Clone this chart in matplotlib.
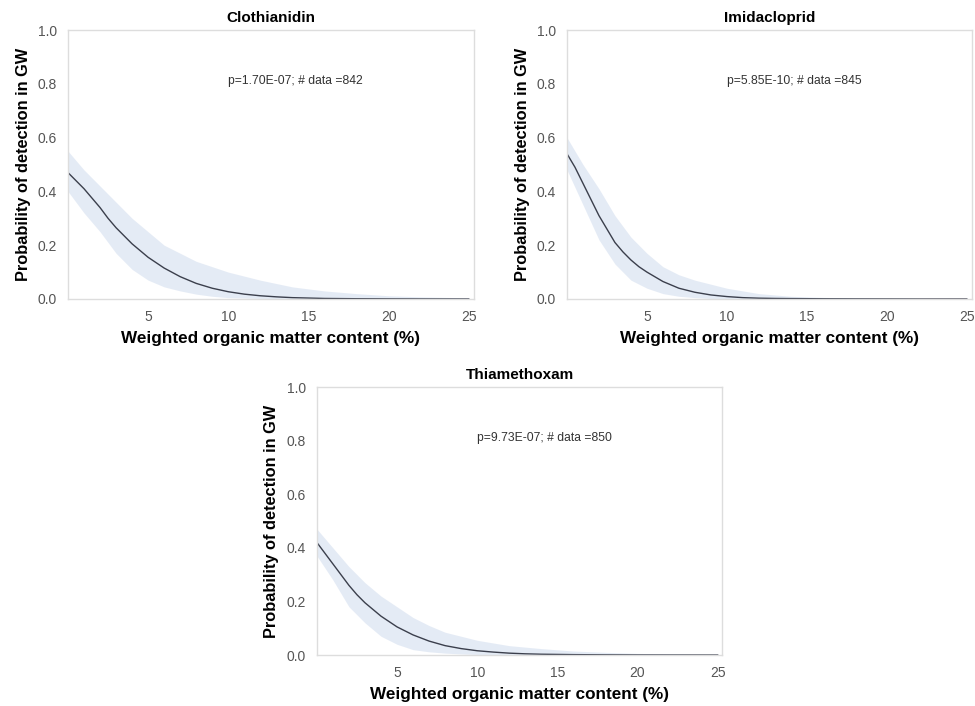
import numpy as np
import matplotlib.pyplot as plt

plt.rcParams['font.family'] = ['Liberation Sans', 'DejaVu Sans']

# organic matter (%) where the fitted curves were read
om = [0, 0.5, 1, 1.5, 2, 2.5, 3, 3.5, 4, 4.5, 5, 6, 7, 8, 9, 10, 11, 12, 13, 14, 16, 18, 20, 22, 25]
# organic matter (%) where the confidence bands were read
om_band = [0, 1, 2, 3, 4, 5, 6, 7, 8, 9, 10, 12, 14, 16, 18, 20, 22, 25]

# Clothianidin
clo_fit = [0.47, 0.44, 0.41, 0.375, 0.34, 0.30, 0.265, 0.235, 0.205, 0.18, 0.155, 0.115, 0.083, 0.058, 0.040,
           0.027, 0.018, 0.012, 0.008, 0.005, 0.002, 0.001, 0.0005, 0.0002, 0.0]
clo_lo = [0.40, 0.32, 0.25, 0.17, 0.11, 0.07, 0.045, 0.03, 0.018, 0.01, 0.005, 0.002, 0.001, 0.0, 0.0, 0.0, 0.0, 0.0]
clo_hi = [0.55, 0.48, 0.42, 0.36, 0.30, 0.25, 0.20, 0.17, 0.14, 0.12, 0.10, 0.07, 0.045, 0.03, 0.02, 0.012, 0.008, 0.004]

# Imidacloprid
imi_fit = [0.54, 0.49, 0.43, 0.37, 0.31, 0.26, 0.21, 0.175, 0.145, 0.12, 0.10, 0.065, 0.040, 0.025, 0.015,
           0.009, 0.005, 0.003, 0.002, 0.0015, 0.0008, 0.0004, 0.0002, 0.0, 0.0]
imi_lo = [0.48, 0.35, 0.22, 0.13, 0.07, 0.04, 0.02, 0.01, 0.005, 0.002, 0.001, 0.0, 0.0, 0.0, 0.0, 0.0, 0.0, 0.0]
imi_hi = [0.60, 0.50, 0.41, 0.31, 0.23, 0.17, 0.12, 0.09, 0.07, 0.055, 0.04, 0.02, 0.01, 0.006, 0.004, 0.002, 0.001, 0.0]

# Thiamethoxam
thi_fit = [0.42, 0.38, 0.34, 0.30, 0.26, 0.225, 0.195, 0.17, 0.145, 0.125, 0.105, 0.075, 0.052, 0.035, 0.024,
           0.016, 0.011, 0.007, 0.0045, 0.003, 0.0015, 0.0007, 0.0003, 0.0001, 0.0]
thi_lo = [0.37, 0.28, 0.18, 0.12, 0.07, 0.04, 0.02, 0.012, 0.007, 0.004, 0.002, 0.001, 0.0, 0.0, 0.0, 0.0, 0.0, 0.0]
thi_hi = [0.47, 0.40, 0.33, 0.27, 0.22, 0.18, 0.14, 0.11, 0.085, 0.07, 0.055, 0.035, 0.024, 0.015, 0.01, 0.006, 0.004, 0.002]

titles = ['Clothianidin', 'Imidacloprid', 'Thiamethoxam']
notes = ['p=1.70E-07; # data =842', 'p=5.85E-10; # data =845', 'p=9.73E-07; # data =850']
fits = [clo_fit, imi_fit, thi_fit]
los = [clo_lo, imi_lo, thi_lo]
his = [clo_hi, imi_hi, thi_hi]

fig = plt.figure(figsize=(9.75, 7.06), dpi=100)
boxes = [[0.0697, 0.5765, 0.416, 0.381],
         [0.5815, 0.5765, 0.415, 0.381],
         [0.325, 0.0722, 0.416, 0.3796]]

for i in range(3):
    ax = fig.add_axes(boxes[i])
    # confidence band, kept faint like the original
    ax.fill_between(om_band, los[i], his[i], color='#cbd8ec', alpha=0.5, linewidth=0)
    ax.plot(om, fits[i], color='#3b3f4c', linewidth=1.0)
    ax.text(14.2, 0.81, notes[i], ha='center', va='center', fontsize=8.7, color='#333333')
    ax.set_xlim(0, 25.3)
    ax.set_ylim(0, 1.0)
    ax.set_xticks([5, 10, 15, 20, 25])
    ax.set_yticks([0.0, 0.2, 0.4, 0.6, 0.8, 1.0])
    ax.set_yticklabels(['0.0', '0.2', '0.4', '0.6', '0.8', '1.0'])
    ax.tick_params(length=0, labelsize=10, labelcolor='#555555', pad=8)
    for s in ax.spines.values():
        s.set_color('#dddddd')
        s.set_linewidth(1.0)
    ax.set_title(titles[i], fontsize=11, fontweight='bold', pad=6)
    ax.set_xlabel('Weighted organic matter content (%)', fontsize=12.3, fontweight='bold', labelpad=5)
    ax.set_ylabel('Probability of detection in GW', fontsize=11.8, fontweight='bold', labelpad=5)

fig.savefig('out.png', dpi=100)
